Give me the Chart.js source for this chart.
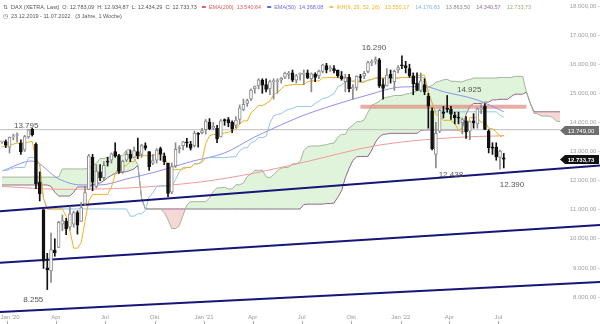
<!DOCTYPE html>
<html>
<head>
<meta charset="utf-8">
<script src="https://cdn.jsdelivr.net/npm/chart.js@4.4.1/dist/chart.umd.min.js"></script>
<style>
  html, body { margin: 0; padding: 0; background: #fff; }
</style>
</head>
<body>
<canvas id="chart" width="600" height="324"></canvas>
<script>
// weekly candles, week 0 = 23.12.2019
const opens = [
  13330, 13340, 13150, 13500, 13550, 13300, 13050, 13500, 13760, 13250,
  11950, 11000, 9000, 8900, 9600, 9700, 10500, 10600, 10400, 10500,
  10900, 10600, 11200, 11700, 12800, 11800, 12300, 12100, 12650, 12700,
  13000, 12850, 12300, 12700, 12900, 12800, 13000, 12900, 13200, 13000,
  12600, 12700, 13100, 12850, 12600, 11600, 12500, 13100, 13200, 13300,
  13250, 13200, 13600, 13650, 13750, 14000, 13800, 13800, 13500, 14100,
  14100, 14000, 13900, 14100, 14450, 14650, 14800, 15150, 15250, 15450,
  15300, 15150, 15400, 15400, 15450, 15550, 15650, 15700, 15450, 15650,
  15650, 15700, 15500, 15650, 15600, 15750, 15950, 15850, 15850, 15800,
  15600, 15400, 15550, 15150, 15200, 15550, 15600, 15750, 16050, 16100,
  16150, 15300, 15250, 15650, 15400, 15800, 15950, 15950, 15850, 15600,
  15350, 15100, 15300, 14900, 14400, 12900, 13700, 14350, 14450, 14450,
  14250, 14150, 14000, 14050, 13700, 14050, 13950, 14450, 14550, 13700,
  13150, 13150, 12800, 12783.09
];
const highs = [
  13340, 13400, 13496, 13600, 13640, 13400, 13560, 13760, 13795, 13300,
  12300, 11000, 9500, 10200, 10000, 10600, 10820, 10700, 11100, 10950,
  10960, 11250, 11800, 12900, 12900, 12550, 12550, 12650, 12800, 12950,
  13300, 12900, 12700, 13000, 13050, 13150, 13460, 13250, 13300, 13000,
  12900, 13100, 13150, 12950, 12600, 12600, 13300, 13200, 13350, 13450,
  13350, 13700, 13650, 13800, 14100, 14130, 14000, 13900, 14100, 14120,
  14170, 14050, 14200, 14600, 14800, 14800, 15150, 15250, 15500, 15500,
  15500, 15450, 15500, 15500, 15550, 15730, 15750, 15800, 15650, 15700,
  15800, 15800, 15700, 15700, 15800, 16000, 16030, 15950, 15950, 15800,
  15750, 15650, 15650, 15300, 15600, 15650, 15750, 16100, 16150, 16250,
  16200, 15500, 15850, 15800, 15800, 15950, 16290, 16100, 16000, 15700,
  15700, 15700, 15500, 15000, 14500, 14000, 14450, 14550, 14925, 14550,
  14350, 14350, 14150, 14200, 14050, 14300, 14500, 14600, 14650, 13750,
  13300, 13300, 13050, 12934.87
];
const lows = [
  13280, 13136, 12948, 13400, 13330, 12900, 13000, 13450, 13530, 11725,
  11300, 8980, 8255, 8500, 9400, 9700, 10280, 10140, 10300, 10400,
  10160, 10600, 11150, 11700, 11650, 11750, 12000, 12000, 12500, 12600,
  12800, 12250, 12250, 12650, 12650, 12800, 12750, 12800, 13050, 12350,
  12550, 12600, 12700, 12550, 11450, 11550, 12450, 12950, 13050, 13150,
  13050, 13150, 13150, 13600, 13600, 13750, 13750, 13300, 13500, 13900,
  13850, 13650, 13800, 13950, 14400, 14550, 14750, 15000, 15150, 15000,
  15050, 14950, 14800, 15000, 15350, 15500, 15500, 15400, 15350, 15450,
  15300, 15500, 15050, 15400, 15500, 15700, 15700, 15750, 15700, 15550,
  15450, 15050, 15050, 14800, 15100, 15400, 15500, 15700, 15950, 16000,
  15200, 14800, 15250, 15350, 15100, 15700, 15850, 15700, 15550, 14950,
  15100, 15050, 14950, 13800, 13050, 12438, 13650, 14150, 14350, 14100,
  13950, 13950, 13600, 13450, 13400, 13800, 13800, 14300, 13750, 12950,
  12900, 12700, 12390, 12434.29
];
const closes = [
  13337, 13219, 13483, 13526, 13577, 12982, 13513, 13744, 13579, 11890,
  11541, 9232, 8929, 9633, 9525, 10565, 10626, 10336, 10861, 10904,
  10465, 11074, 11587, 12848, 11949, 12331, 12089, 12528, 12633, 12920,
  12838, 12313, 12674, 12901, 12765, 13033, 12842, 13203, 13116, 12469,
  12689, 13051, 12909, 12646, 11556, 12480, 13077, 13137, 13335, 13298,
  13114, 13631, 13587, 13719, 14049, 13787, 13873, 13433, 14056, 14050,
  13993, 13786, 14080, 14502, 14621, 14749, 15107, 15234, 15460, 15280,
  15136, 15400, 15416, 15438, 15520, 15693, 15693, 15448, 15608, 15650,
  15688, 15540, 15669, 15544, 15761, 15977, 15808, 15852, 15781, 15609,
  15490, 15532, 15156, 15207, 15587, 15543, 15688, 16054, 16094, 16160,
  15257, 15169, 15623, 15531, 15756, 15885, 15947, 15883, 15603, 15318,
  15100, 15425, 15043, 14567, 13094, 13628, 14413, 14306, 14446, 14284,
  14164, 14142, 14098, 13674, 14027, 13982, 14462, 14460, 13762, 13127,
  13118, 12813, 13015, 12733.73
];

// Ichimoku tenkan / kijun per week
const tenkan = [
  13165, 13170, 13220, 13250, 13290, 13270, 13270, 13330, 13347, 12760,
  12548, 11388, 11025, 11025, 11025, 11025, 11025, 10778, 10278, 9678,
  9678, 9875, 10600, 11300, 11525, 11525, 11525, 11525, 11525, 11775,
  12225, 12475, 12475, 12525, 12650, 12650, 12855, 12855, 12855, 12855,
  12855, 12905, 12905, 12905, 12455, 12375, 12375, 12375, 12400, 12450,
  12450, 12575, 12575, 12675, 13275, 13540, 13590, 13590, 13590, 13640,
  13660, 13735, 13750, 13950, 14050, 14050, 14325, 14450, 14575, 14575,
  14650, 14725, 14950, 15025, 15150, 15265, 15275, 15300, 15300, 15300,
  15300, 15400, 15425, 15425, 15425, 15525, 15540, 15540, 15540, 15540,
  15540, 15540, 15540, 15415, 15415, 15375, 15375, 15450, 15475, 15525,
  15525, 15525, 15525, 15525, 15525, 15525, 15545, 15545, 15545, 15545,
  15620, 15620, 15620, 15045, 14670, 14269, 14219, 14069, 14069, 14069,
  13969, 13719, 13681, 13681, 14162, 14162, 14162, 14000, 14025, 13800,
  13775, 13675, 13520, 13550.17
];
const kijun = [
  12350, 12350, 12380, 12430, 12450, 12450, 12450, 12780, 12800, 12760,
  12548, 11388, 11025, 11025, 11025, 11025, 11025, 11025, 11025, 11025,
  11025, 11025, 11025, 11025, 11025, 11025, 11025, 11025, 11025, 11025,
  11025, 11025, 11025, 11025, 10778, 10778, 10858, 10858, 10980, 11430,
  11580, 11800, 11800, 11810, 11810, 11810, 12030, 12305, 12455, 12455,
  12455, 12575, 12575, 12625, 12775, 12790, 12790, 12790, 12790, 12790,
  12810, 12810, 12825, 13025, 13125, 13125, 13300, 13350, 13475, 13475,
  13525, 13975, 14225, 14275, 14300, 14390, 14450, 14475, 14550, 14550,
  14550, 14550, 14550, 14650, 14725, 14825, 14840, 14915, 14990, 15215,
  15290, 15390, 15415, 15415, 15415, 15415, 15415, 15450, 15475, 15525,
  15525, 15525, 15525, 15525, 15525, 15525, 15545, 15545, 15545, 15545,
  15545, 15545, 15545, 15045, 14670, 14364, 14364, 14364, 14364, 14364,
  14364, 14364, 14364, 14364, 14364, 14364, 14364, 14364, 14364, 14364,
  14364, 14364, 14245, 14176.83
];

// cloud (senkou spans), plotted 26 weeks ahead, weeks 0..148
const senkouA = [
  12120, 12120, 12120, 12120, 12120, 12120, 12120, 12120, 12120, 12120,
  12120, 12120, 12120, 12120, 12120, 12120, 12400, 12400, 12400, 12400,
  12400, 12400, 12400, 12450, 12500, 12600, 12758, 12760, 12800, 12840,
  12870, 12860, 12860, 13055, 13074, 12760, 12548, 11388, 11025, 11025,
  11025, 11025, 11025, 10902, 10652, 10352, 10352, 10450, 10812, 11162,
  11275, 11275, 11275, 11275, 11275, 11400, 11625, 11750, 11750, 11775,
  11714, 11714, 11856, 11856, 11918, 12142, 12218, 12352, 12352, 12358,
  12132, 12092, 12202, 12340, 12428, 12452, 12452, 12575, 12575, 12650,
  13025, 13165, 13190, 13190, 13190, 13215, 13235, 13272, 13288, 13488,
  13588, 13588, 13812, 13900, 14025, 14025, 14088, 14350, 14588, 14650,
  14725, 14828, 14862, 14888, 14925, 14925, 14925, 14975, 14988, 15038,
  15075, 15175, 15190, 15228, 15265, 15378, 15415, 15465, 15478, 15415,
  15415, 15395, 15395, 15450, 15475, 15525, 15525, 15525, 15525, 15525,
  15525, 15525, 15545, 15545, 15545, 15545, 15582, 15582, 15582, 15045,
  14670, 14316, 14292, 14216, 14216, 14216, 14166, 14042, 14022
];
const senkouB = [
  11850, 11850, 11850, 11850, 11850, 11850, 11850, 11850, 11850, 11850,
  11850, 11850, 11850, 11800, 11600, 11470, 11470, 11470, 11470, 11600,
  11780, 11780, 11780, 11780, 11850, 11900, 11915, 12000, 12100, 12180,
  12250, 12270, 12290, 12310, 12348, 12398, 12530, 11388, 11025, 11025,
  11025, 11025, 11025, 11025, 11025, 11025, 11025, 11025, 11025, 11025,
  11025, 11025, 11025, 11025, 11025, 11025, 11025, 11025, 11025, 11025,
  11025, 11025, 11025, 11025, 11025, 11025, 11025, 11025, 11025, 11025,
  11025, 11025, 11025, 11025, 11025, 11025, 11025, 11025, 11025, 11025,
  11178, 11192, 11192, 11192, 11192, 11192, 11212, 11212, 11228, 11428,
  11650, 12100, 12425, 12695, 12820, 12830, 12830, 12830, 13050, 13325,
  13500, 13590, 13600, 13625, 13625, 13625, 13625, 13625, 13625, 13625,
  13625, 13725, 13740, 13740, 13740, 13740, 13740, 13740, 13740, 13740,
  13740, 13740, 13790, 14275, 14550, 14650, 14650, 14650, 14700, 14700,
  14775, 14775, 14795, 14795, 14795, 14895, 14970, 14970, 14970, 15045,
  14670, 14364, 14364, 14364, 14364, 14364, 14364, 14364, 14364
];

// moving averages, read at sample weeks
const ema200Weeks = [0, 16, 34, 53, 67, 79, 100, 120, 133];
const ema200Values = [11800, 11700, 11750, 11960, 12260, 12600, 13220, 13480, 13540.64];
const ema50Weeks = [0, 8, 15, 21, 26, 33, 41, 50, 59, 67, 71, 79, 88, 97, 106, 112, 117, 126, 133];
const ema50Values = [12330, 12674, 12060, 11850, 11850, 12056, 12307, 12650, 12950, 13500, 13740, 14196, 14598, 14942, 15217, 15227, 15055, 14770, 14368.08];

// drawn levels: [week from, value from, week to, value to]
const trendLines = [
  [-0.53, 10950, 158.5, 12519],
  [-0.53, 9180, 158.5, 10475],
  [-0.53, 7486, 158.5, 8517]
];
const levelLine = 13749;
const resistanceBand = [95, 139, 14540];

const ikhHeader = [13550.17, 14176.83, 13863.50, 14340.57, 12733.73];

// axis ticks
const monthTicks = [1.29, 14.29, 27.29, 40.43, 53.57, 66.43, 79.43, 92.57, 105.71, 118.57, 131.57];
const monthLabels = ["Jan '20", 'Apr', 'Jul', 'Okt', "Jan '21", 'Apr', 'Jul', 'Okt', "Jan '22", 'Apr', 'Jul'];
const priceTicks = [8000, 9000, 10000, 11000, 12000, 13000, 14000, 15000, 16000, 17000, 18000];

// high / low labels
const extremeLabels = [
  { week: 8, value: 13795, text: '13.795' },
  { week: 106, value: 16290, text: '16.290' },
  { week: 118, value: 14925, text: '14.925' },
  { week: 115, value: 12438, text: '12.438' },
  { week: 132, value: 12390, text: '12.390' },
  { week: 12, value: 8255, text: '8.255' }
];

const fmt = (v) => {
  const s = Math.round(v * 100);
  const i = Math.floor(s / 100).toString().replace(/\B(?=(\d{3})+(?!\d))/g, '.');
  return i + ',' + String(s % 100).padStart(2, '0');
};

const weeks = opens.map((_, i) => i);
const cloudWeeks = senkouA.map((_, i) => i);
const last = closes.length - 1;
const isDown = (i) => closes[i] < opens[i];

const FONT = '"Liberation Sans", Arial, sans-serif';
Chart.defaults.font.family = FONT;

const lineDs = (data, color, extra) => Object.assign({
  type: 'line',
  data: data,
  borderColor: color,
  borderWidth: 1,
  pointRadius: 0,
  fill: false,
  tension: 0
}, extra || {});

// header, month labels, price tags and extreme labels
const overlay = {
  id: 'overlay',
  afterDraw(chart) {
    const ctx = chart.ctx;
    const xs = chart.scales.x;
    const ys = chart.scales.y;
    ctx.save();

    // extreme labels
    const offs = [[-6, -3], [-28, -8], [22, -6], [15, 7], [12, 16], [-14, 10]];
    ctx.font = '8px ' + FONT;
    ctx.fillStyle = '#555';
    ctx.textAlign = 'center';
    ctx.textBaseline = 'middle';
    extremeLabels.forEach((l, i) => {
      const px = xs.getPixelForValue(l.week) + offs[i][0];
      const py = ys.getPixelForValue(l.value) + offs[i][1];
      ctx.fillText(l.text, px, py);
    });

    // price tags at right
    const tag = (value, bg, bold) => {
      const y = Math.round(ys.getPixelForValue(value)) + 0.5;
      const x0 = chart.chartArea.right;
      ctx.fillStyle = bg;
      ctx.beginPath();
      ctx.moveTo(x0, y);
      ctx.lineTo(x0 + 5, y - 4.5);
      ctx.lineTo(599, y - 4.5);
      ctx.lineTo(599, y + 4.5);
      ctx.lineTo(x0 + 5, y + 4.5);
      ctx.closePath();
      ctx.fill();
      ctx.fillStyle = '#fff';
      ctx.font = (bold ? 'bold ' : '') + '6px ' + FONT;
      ctx.textAlign = 'center';
      ctx.fillText(fmt(value), x0 + 21, y + 0.5);
    };
    tag(levelLine, '#6e6e6e', false);
    tag(closes[last], '#111', true);

    // month labels with small tick marks beneath
    ctx.font = '6px ' + FONT;
    ctx.fillStyle = '#9a9a9a';
    ctx.strokeStyle = '#aaa';
    ctx.lineWidth = 1;
    monthTicks.forEach((w, i) => {
      const px = xs.getPixelForValue(w);
      const half = ctx.measureText(monthLabels[i]).width / 2;
      ctx.textAlign = 'center';
      ctx.fillText(monthLabels[i], Math.max(px, half + 0.5), 317.5);
      const tx = Math.round(px) + 0.5;
      ctx.beginPath();
      ctx.moveTo(tx, 321);
      ctx.lineTo(tx, 324);
      ctx.stroke();
    });

    // header
    ctx.textAlign = 'left';
    ctx.textBaseline = 'middle';
    ctx.font = '5.5px ' + FONT;
    const segs = [
      { t: '\u21C5', c: '#666', g: 3 },
      { t: 'DAX (XETRA, Last)  O: ' + fmt(opens[last]) + '  H: ' + fmt(highs[last]) + '  L: ' + fmt(lows[last]) + '  C: ' + fmt(closes[last]), c: '#555', g: 5 },
      { dash: '#e03030' },
      { t: 'EMA(200)  ' + fmt(ema200Values[ema200Values.length - 1]), c: '#e05a5a', g: 6 },
      { dash: '#3030e0' },
      { t: 'EMA(50)  ' + fmt(ema50Values[ema50Values.length - 1]), c: '#6a6ae6', g: 6 },
      { dash: '#f2b01e' },
      { t: 'IKH(9, 26, 52, 26)', c: '#f2b01e', g: 5 },
      { t: fmt(ikhHeader[0]), c: '#f2b01e', g: 6 },
      { t: fmt(ikhHeader[1]), c: '#7fb6dc', g: 6 },
      { t: fmt(ikhHeader[2]), c: '#8a8a8a', g: 6 },
      { t: fmt(ikhHeader[3]), c: '#9a6a8e', g: 6 },
      { t: fmt(ikhHeader[4]), c: '#97ab7a', g: 6 }
    ];
    let x = 3;
    const y1 = 7;
    segs.forEach((s) => {
      if (s.dash) {
        ctx.fillStyle = s.dash;
        ctx.fillRect(x, y1 - 0.75, 4, 1.5);
        x += 7;
      } else {
        ctx.fillStyle = s.c;
        ctx.fillText(s.t, x, y1);
        x += ctx.measureText(s.t).width + s.g;
      }
    });
    ctx.fillStyle = '#555';
    ctx.fillText('\u25F7  23.12.2019 - 11.07.2022   (3 Jahre, 1 Woche)', 3, 16);
    ctx.restore();
  }
};

const datasets = [
  lineDs(cloudWeeks.map((w, i) => ({ x: w, y: senkouA[i] })), '#a6b39c', {
    fill: { target: 1, above: 'rgba(140,215,125,0.28)', below: 'rgba(230,140,140,0.35)' },
    order: 10
  }),
  lineDs(cloudWeeks.map((w, i) => ({ x: w, y: senkouB[i] })), '#8e5a84', { order: 11 }),
  lineDs(ema200Weeks.map((w, i) => ({ x: w, y: ema200Values[i] })), '#f29a9a', { cubicInterpolationMode: 'monotone', order: 6 }),
  lineDs(ema50Weeks.map((w, i) => ({ x: w, y: ema50Values[i] })), '#9090f0', { cubicInterpolationMode: 'monotone', order: 6 }),
  lineDs(weeks.map((w) => ({ x: w, y: kijun[w] })), '#94c4e4', { order: 5 }),
  lineDs(weeks.map((w) => ({ x: w, y: tenkan[w] })), '#f2b01e', { order: 4 }),
  lineDs([{ x: -0.53, y: levelLine }, { x: 147.9, y: levelLine }], '#bdbdbd', { order: 7 }),
  lineDs([{ x: resistanceBand[0], y: resistanceBand[2] }, { x: resistanceBand[1], y: resistanceBand[2] }], 'rgba(222,140,128,0.7)', { borderWidth: 4, order: 7 })
];
trendLines.forEach((t) => {
  datasets.push(lineDs([{ x: t[0], y: t[1] }, { x: t[2], y: t[3] }], '#15157a', { borderWidth: 2, clip: false, order: 3 }));
});
datasets.push({
  type: 'bar',
  data: weeks.map((w) => ({ x: w, y: [lows[w], highs[w]] })),
  backgroundColor: weeks.map((w) => (isDown(w) ? '#111' : '#8a8a8a')),
  barThickness: 1,
  grouped: false,
  order: 1
});
datasets.push({
  type: 'bar',
  data: weeks.map((w) => ({ x: w, y: [opens[w], closes[w]] })),
  backgroundColor: weeks.map((w) => (isDown(w) ? '#111' : '#fff')),
  borderColor: weeks.map((w) => (isDown(w) ? '#111' : '#8a8a8a')),
  borderWidth: 1,
  borderSkipped: false,
  minBarLength: 1,
  barThickness: 3,
  grouped: false,
  order: 0
});

new Chart(document.getElementById('chart'), {
  type: 'bar',
  data: { datasets: datasets },
  options: {
    responsive: false,
    animation: false,
    events: [],
    layout: { padding: 0 },
    plugins: {
      legend: { display: false },
      tooltip: { enabled: false },
      title: { display: false }
    },
    scales: {
      x: {
        type: 'linear',
        min: -0.53,
        max: 147.9,
        offset: false,
        grid: { display: false, drawTicks: false },
        border: { display: false },
        afterBuildTicks: (axis) => {
          axis.ticks = monthTicks.map((v) => ({ value: v }));
        },
        afterFit: (axis) => {
          axis.height = 12;
          axis.paddingLeft = 0;
          axis.paddingRight = 0;
        },
        ticks: { display: false }
      },
      y: {
        position: 'right',
        min: 7484,
        max: 18206,
        grid: { display: false, drawTicks: false },
        border: { display: false },
        afterBuildTicks: (axis) => {
          axis.ticks = priceTicks.map((v) => ({ value: v }));
        },
        afterFit: (axis) => {
          axis.width = 40;
          axis.paddingTop = 0;
          axis.paddingBottom = 0;
        },
        ticks: {
          crossAlign: 'far',
          padding: 2,
          color: '#a0a0a0',
          font: { size: 6 },
          callback: (v) => fmt(v) + ' -'
        }
      }
    }
  },
  plugins: [overlay]
});
</script>
</body>
</html>
